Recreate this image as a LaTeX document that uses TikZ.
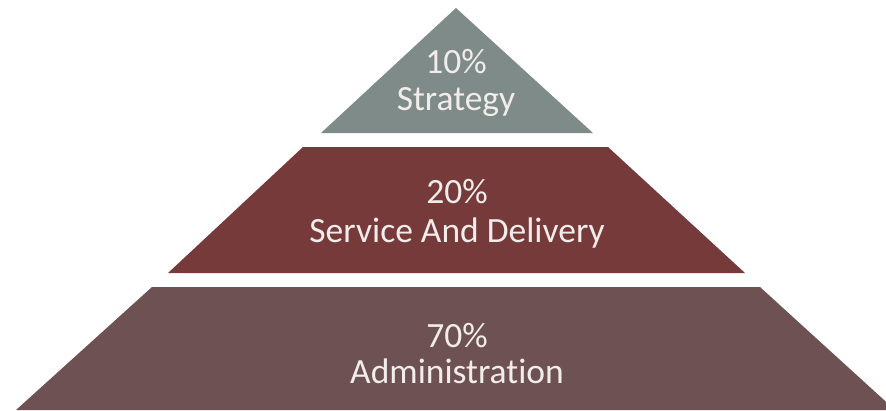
\documentclass[tikz,border=0pt]{standalone}
\usepackage{fontspec}
\setmainfont{Carlito}[Ligatures={NoCommon}]
\definecolor{topc}{HTML}{7E8B88}
\definecolor{midc}{HTML}{763A3B}
\definecolor{botc}{HTML}{6E5152}
\definecolor{txtc}{HTML}{F2EDEA}
\begin{document}
\begin{tikzpicture}[x=1pt,y=-1pt,
  lbl/.style={text=txtc,font=\fontsize{35.5}{40}\selectfont,anchor=base,inner sep=0pt}]
\useasboundingbox (0,0) rectangle (886,410);
\fill[topc] (456,8) -- (593,133) -- (321,133) -- cycle;
\fill[midc] (303,147) -- (608,147) -- (745,273) -- (168,273) -- cycle;
\fill[botc] (152,287) -- (760,287) -- (895,410) -- (16,410) -- cycle;
\node[lbl] (t1) at (456,73) {10\%};
\node[lbl] (t2) at (456,110) {Strategy};
\node[lbl] (m1) at (457,203) {20\%};
\node[lbl] (m2) at (457,242) {Service And Delivery};
\node[lbl] (b1) at (457,347) {70\%};
\node[lbl] (b2) at (457,383) {Administration};
\end{tikzpicture}
\end{document}
